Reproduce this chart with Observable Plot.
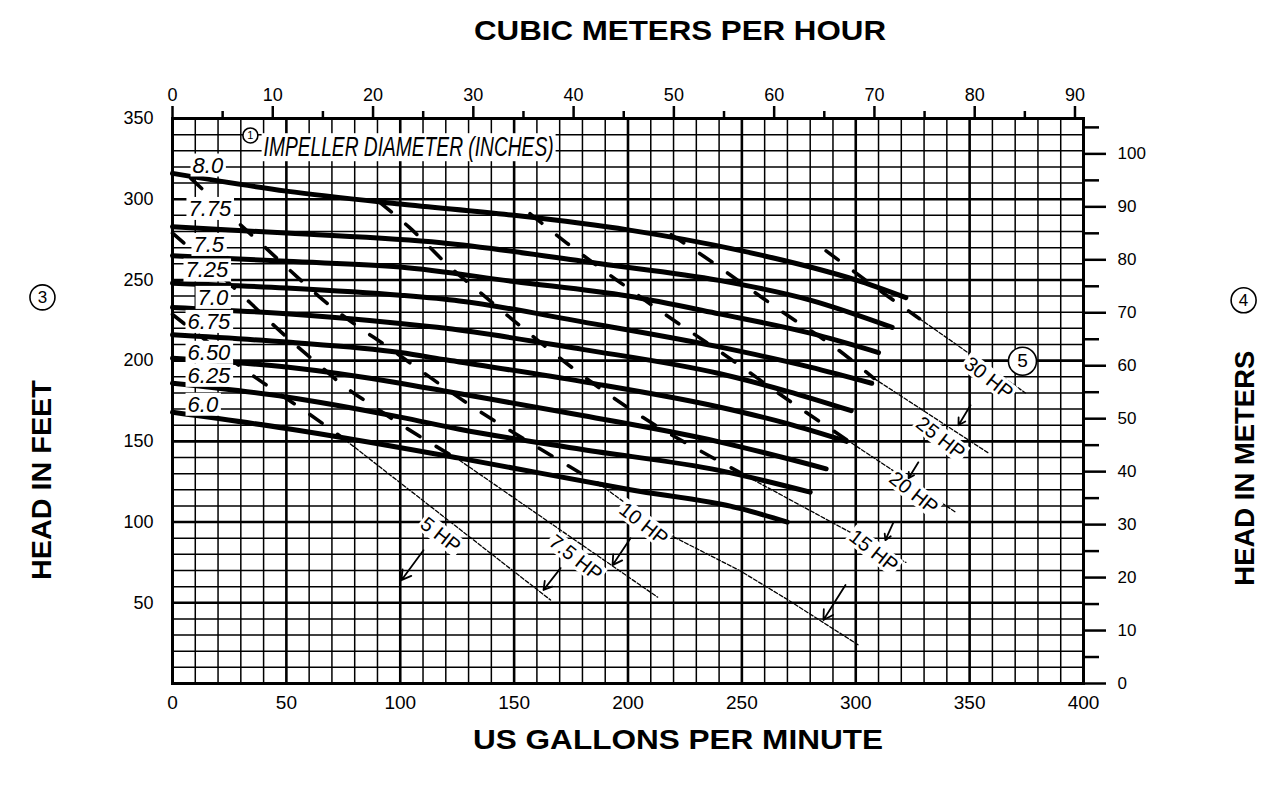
<!DOCTYPE html>
<html><head><meta charset="utf-8">
<script src="https://cdn.jsdelivr.net/npm/d3@7"></script>
<script src="https://cdn.jsdelivr.net/npm/@observablehq/plot@0.6"></script>
<style>
html,body{margin:0;padding:0;background:#fff;overflow:hidden}
</style></head><body><div id="chart"></div>
<script>
// ---------- unit conversions for the secondary axes ----------
const GPM_PER_M3H = 4.4029;
const FT_PER_M = 3.28084;

// ---------- tick labels ----------
const gpmTicks = [0, 50, 100, 150, 200, 250, 300, 350, 400];
const ftTicks = [50, 100, 150, 200, 250, 300, 350];
const m3Labels = [0, 10, 20, 30, 40, 50, 60, 70, 80, 90];
const m3Minor = [5, 15, 25, 35, 45, 55, 65, 75, 85];
const mLabels = [0, 10, 20, 30, 40, 50, 60, 70, 80, 90, 100];
const mMinor = [5, 15, 25, 35, 45, 55, 65, 75, 85, 95, 105];

// ---------- impeller diameter curves (US gpm, head ft) ----------
const diameters = ["8.0", "7.75", "7.5", "7.25", "7.0", "6.75", "6.50", "6.25", "6.0"];
const q80 = [0, 50, 100, 150, 200, 250, 280, 300, 322];
const h80 = [316, 305, 297, 290, 281, 268, 258, 250, 239];
const q775 = [0, 50, 118, 188, 240, 280, 316];
const h775 = [283, 279, 273, 260, 249.7, 237.5, 220.6];
const q75 = [0, 50, 100, 150, 200, 240, 280, 310];
const h75 = [265, 261.5, 258, 249, 240, 229, 217, 205];
const q725 = [0, 50, 100, 126, 180, 240, 280, 307];
const h725 = [248, 245, 240.5, 237, 224, 208.5, 196, 186];
const q70 = [0, 50, 100, 120, 180, 240, 270, 298];
const h70 = [233, 229, 223, 220, 207, 192, 181, 169];
const q675 = [0, 50, 100, 120, 180, 240, 270, 296];
const h675 = [216, 211.5, 205, 200.5, 187, 171.3, 161, 150];
const q650 = [0, 50, 100, 120, 180, 240, 287];
const h650 = [201.5, 196, 186, 181, 166, 149.7, 133];
const q625 = [0, 50, 100, 126, 180, 240, 280];
const h625 = [186, 177.5, 165, 157.5, 145, 132, 118.5];
const q60 = [0, 50, 126, 201, 249, 270];
const h60 = [168, 158, 139.6, 120, 108.5, 100];
// label anchor (left edge, middle) for each diameter, in gpm / ft
const diaLabelQ = [8.8, 7.0, 9.2, 5.7, 11, 6.6, 6.6, 6.6, 6.6];
const diaLabelH = [320.9, 294, 271.7, 255.9, 238.9, 224, 204.9, 190.6, 172.7];

// ---------- horsepower lines ----------
const hpNames = ["5 HP", "7.5 HP", "10 HP", "15 HP", "20 HP", "25 HP", "30 HP"];
const hp5DashQ = [0, 37, 60, 76],                 hp5DashH = [228.6, 189, 167, 150.7];
const hp5ThinQ = [76, 166],                       hp5ThinH = [150.7, 51.7];
const hp75DashQ = [0, 34, 44, 65, 76, 88, 98, 126], hp75DashH = [279, 236, 222.5, 196.5, 183.5, 172, 162.5, 138.3];
const hp75ThinQ = [126, 213],                     hp75ThinH = [138.3, 53.5];
const hp10DashQ = [8, 40, 71, 97, 129, 163, 188], hp10DashH = [313, 271, 232, 206, 174, 144, 123];
const hp10ThinQ = [188, 217, 249, 270, 301],      hp10ThinH = [123, 93, 70, 52, 24];
const hp15DashQ = [91, 104, 123, 134, 156, 177, 199, 212, 236, 250], hp15DashH = [298, 282.5, 256.5, 243.5, 217.6, 194, 171.8, 160, 140.8, 130];
const hp15ThinQ = [250, 322],                     hp15ThinH = [130, 75];
const hp20DashQ = [157, 173, 195, 218, 241, 274, 296], hp20DashH = [291, 273, 250, 227, 205, 172, 151];
const hp20ThinQ = [296, 344],                     hp20ThinH = [151, 106];
const hp25DashQ = [219, 235, 246, 268, 292, 308], hp25DashH = [278, 263, 252, 230, 207, 189];
const hp25ThinQ = [308, 358],                     hp25ThinH = [189, 143];
const hp30DashQ = [287, 313, 328],                hp30DashH = [268, 241, 226];
const hp30ThinQ = [328, 374.5],                   hp30ThinH = [226, 180];
// HP label centres (gpm / ft)
const hpLabelQ = [117.7, 177, 206.8, 307.8, 325.4, 337.2, 358.3];
const hpLabelH = [91.9, 77.7, 98.7, 82, 117.9, 152, 189.1];
// pointer arrows: tail -> tip (gpm / ft)
const arrowQ1 = [110.2, 170.4, 201.1, 295.5, 316.6, 327.5, 350.4];
const arrowH1 = [82.6, 71.5, 90, 61, 100, 137, 172.4];
const arrowQ2 = [100.5, 162.9, 193.2, 285.8, 313, 323.2, 345.1];
const arrowH2 = [64, 57.9, 73.3, 39.3, 88.8, 127.2, 160];

// ---------- circled notes and side titles (anchor points in gpm / ft) ----------
const noteText = ["1", "5", "3", "4"];
const noteQ = [34.2, 373.2, -57.1, 470.3];
const noteH = [339.5, 199.6, 239.2, 237.4];
const noteR = [7.5, 14, 12.5, 12.5];
const noteFont = [11, 19, 17, 17];
const sideTitles = ["HEAD IN FEET", "HEAD IN METERS"];
const sideQ = [-57.1, 471.1];
const sideH = [126, 133.4];
const sideLen = [200, 235];
const impTitleQ = [40], impTitleH = [332];

// ---------- build tables ----------
const curveQ = [q80, q775, q75, q725, q70, q675, q650, q625, q60];
const curveH = [h80, h775, h75, h725, h70, h675, h650, h625, h60];
const curveRows = diameters.flatMap((d, i) => curveQ[i].map((q, j) => ({dia: d, q, h: curveH[i][j]})));
const diaLabels = diameters.map((d, i) => ({t: d, q: diaLabelQ[i], h: diaLabelH[i]}));

const dashQ = [hp5DashQ, hp75DashQ, hp10DashQ, hp15DashQ, hp20DashQ, hp25DashQ, hp30DashQ];
const dashH = [hp5DashH, hp75DashH, hp10DashH, hp15DashH, hp20DashH, hp25DashH, hp30DashH];
const thinQ = [hp5ThinQ, hp75ThinQ, hp10ThinQ, hp15ThinQ, hp20ThinQ, hp25ThinQ, hp30ThinQ];
const thinH = [hp5ThinH, hp75ThinH, hp10ThinH, hp15ThinH, hp20ThinH, hp25ThinH, hp30ThinH];
const hpDashRows = hpNames.flatMap((n, i) => dashQ[i].map((q, j) => ({hp: n, q, h: dashH[i][j]})));
const hpThinRows = hpNames.flatMap((n, i) => thinQ[i].map((q, j) => ({hp: n, q, h: thinH[i][j]})));
const hpLabels = hpNames.map((n, i) => ({t: n, q: hpLabelQ[i], h: hpLabelH[i]}));
const arrows = arrowQ1.map((q, i) => ({q1: q, h1: arrowH1[i], q2: arrowQ2[i], h2: arrowH2[i]}));
const notes = noteText.map((t, i) => ({t, q: noteQ[i], h: noteH[i], r: noteR[i], f: noteFont[i]}));
const sides = sideTitles.map((t, i) => ({t, q: sideQ[i], h: sideH[i]}));

const gridQ = d3.range(0, 401, 10);
const gridH = d3.range(0, 351, 10);
const FONT = "'Liberation Sans', Arial, Helvetica, sans-serif";

const chart = Plot.plot({
  width: 1284,
  height: 787,
  marginLeft: 172,
  marginRight: 201,
  marginTop: 118,
  marginBottom: 104,
  x: {domain: [0, 400]},
  y: {domain: [0, 350]},
  r: {type: "identity"},
  style: {fontFamily: FONT, color: "black", background: "white", overflow: "visible"},
  marks: [
    // grid
    Plot.ruleX(gridQ.filter(d => d % 50 !== 0), {x: d => d, stroke: "black", strokeWidth: 1.5}),
    Plot.ruleY(gridH.filter(d => d % 50 !== 0), {y: d => d, stroke: "black", strokeWidth: 1.5}),
    Plot.ruleX(gridQ.filter(d => d % 50 === 0), {x: d => d, stroke: "black", strokeWidth: 2.6}),
    Plot.ruleY(gridH.filter(d => d % 50 === 0), {y: d => d, stroke: "black", strokeWidth: 2.6}),
    Plot.frame({stroke: "black", strokeWidth: 3}),

    // axes
    Plot.axisX(gpmTicks, {anchor: "bottom", tickSize: 0, tickPadding: 12, fontSize: 19, label: null}),
    Plot.axisY(ftTicks, {anchor: "left", tickSize: 0, tickPadding: 19, fontSize: 18, label: null}),
    Plot.axisX(m3Labels.map(m => m * GPM_PER_M3H), {anchor: "top", tickSize: 13, tickPadding: 5, strokeWidth: 2.5,
      fontSize: 18, label: null, tickFormat: d => String(Math.round(d / GPM_PER_M3H))}),
    Plot.axisX(m3Minor.map(m => m * GPM_PER_M3H), {anchor: "top", tickSize: 8, strokeWidth: 2.5, label: null, tickFormat: () => ""}),
    Plot.axisY(mLabels.map(m => m * FT_PER_M), {anchor: "right", tickSize: 22, tickPadding: 12, strokeWidth: 2.5,
      fontSize: 17, label: null, tickFormat: d => String(Math.round(d / FT_PER_M))}),
    Plot.axisY(mMinor.map(m => m * FT_PER_M), {anchor: "right", tickSize: 15, strokeWidth: 2.5, label: null, tickFormat: () => ""}),

    // horsepower lines
    Plot.line(hpThinRows, {x: "q", y: "h", z: "hp", stroke: "black", strokeWidth: 1.3, strokeDasharray: "4,2"}),
    Plot.line(hpDashRows, {x: "q", y: "h", z: "hp", stroke: "black", strokeWidth: 3.6, strokeDasharray: "15,19", curve: "monotone-x"}),

    // impeller curves
    Plot.line(curveRows, {x: "q", y: "h", z: "dia", stroke: "black", strokeWidth: 5, curve: "monotone-x", strokeLinecap: "round"}),

    // diameter labels
    Plot.text(diaLabels, {x: "q", y: "h", text: "t", textAnchor: "start", fontSize: 22, fontStyle: "italic",
      fill: "black", className: "boxed"}),

    // HP labels + pointers
    Plot.text(hpLabels, {x: "q", y: "h", text: "t", rotate: 38, fontSize: 20, fill: "black", className: "boxed"}),
    Plot.arrow(arrows, {x1: "q1", y1: "h1", x2: "q2", y2: "h2", stroke: "black", strokeWidth: 1.8, headLength: 9}),

    // impeller title
    Plot.text(impTitleQ.map((q, i) => ({q, h: impTitleH[i]})), {x: "q", y: "h", text: () => "IMPELLER DIAMETER (INCHES)",
      textAnchor: "start", fontSize: 27, fontStyle: "italic", fill: "black", className: "boxed imp-title"}),

    // circled notes
    Plot.dot(notes, {x: "q", y: "h", r: "r", stroke: "black", fill: "white", strokeWidth: 1.6}),
    Plot.text(notes, {x: "q", y: "h", text: "t", fontSize: "f"}),

    // titles
    Plot.text(["CUBIC METERS PER HOUR"], {frameAnchor: "top", dx: 52, dy: -98, fontSize: 28, fontWeight: "bold", className: "title-top"}),
    Plot.text(["US GALLONS PER MINUTE"], {frameAnchor: "bottom", dx: 50, dy: 65, fontSize: 28, fontWeight: "bold", className: "title-bottom"}),
    Plot.text(sides, {x: "q", y: "h", text: "t", rotate: -90, fontSize: 28, fontWeight: "bold", className: "side-title"})
  ]
});

document.getElementById("chart").appendChild(chart);
const svg = d3.select(chart);
svg.selectAll(".imp-title text").attr("textLength", 290).attr("lengthAdjust", "spacingAndGlyphs");
svg.selectAll(".title-top text").attr("textLength", 412).attr("lengthAdjust", "spacingAndGlyphs");
svg.selectAll(".title-bottom text").attr("textLength", 410).attr("lengthAdjust", "spacingAndGlyphs");
svg.selectAll(".side-title text").each(function(d, i) {
  d3.select(this).attr("textLength", sideLen[i]).attr("lengthAdjust", "spacingAndGlyphs");
});
// white boxes behind in-plot labels (as in the printed chart)
svg.selectAll(".boxed text").each(function() {
  const b = this.getBBox();
  const pad = 2;
  d3.select(this.parentNode).insert("rect", () => this)
    .attr("x", b.x - pad).attr("y", b.y + 1).attr("width", b.width + 2 * pad).attr("height", b.height - 2)
    .attr("transform", this.getAttribute("transform"))
    .attr("fill", "white");
});
</script>
</body></html>
